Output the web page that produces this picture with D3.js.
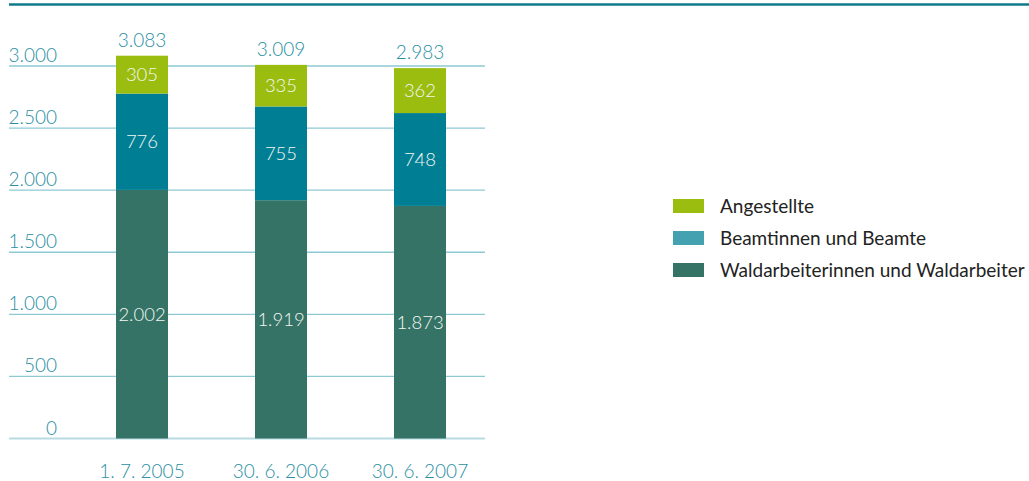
<!DOCTYPE html>
<html>
<head>
<meta charset="utf-8">
<script src="https://cdn.jsdelivr.net/npm/d3@7"></script>
<style>
  html, body { margin: 0; padding: 0; background: #fff; }
  svg { display: block; font-family: Lato, "Open Sans", sans-serif; }
</style>
</head>
<body>
<svg id="chart" width="1029" height="481"></svg>
<script>
// Personalstand nach Beschäftigtengruppe
const categories = ["1. 7. 2005", "30. 6. 2006", "30. 6. 2007"];
const seriesNames = ["Waldarbeiterinnen und Waldarbeiter", "Beamtinnen und Beamte", "Angestellte"];
const waldarbeiter = [2002, 1919, 1873];
const beamte = [776, 755, 748];
const angestellte = [305, 335, 362];
const totals = [3083, 3009, 2983];
const yTicks = [0, 500, 1000, 1500, 2000, 2500, 3000];

const barColors = { "Waldarbeiterinnen und Waldarbeiter": "#347366", "Beamtinnen und Beamte": "#007f94", "Angestellte": "#9bbd0f" };
const legendColors = { "Waldarbeiterinnen und Waldarbeiter": "#347366", "Beamtinnen und Beamte": "#43a1b0", "Angestellte": "#9bbd0f" };
const legendOrder = ["Angestellte", "Beamtinnen und Beamte", "Waldarbeiterinnen und Waldarbeiter"];

const fmt = d3.formatLocale({ decimal: ",", thousands: ".", grouping: [3], currency: ["", " €"] }).format(",d");

const svg = d3.select("#chart");

// Trennlinie oben
svg.append("line")
  .attr("x1", 9).attr("x2", 1029).attr("y1", 4.5).attr("y2", 4.5)
  .attr("stroke", "#0f7b8a").attr("stroke-width", 2.5);

const x = d3.scalePoint().domain(categories).range([142, 420]);
const y = d3.scaleLinear().domain([0, 3000]).range([438.5, 66]);
const barW = 52;

// Gitterlinien
svg.append("g").selectAll("line").data(yTicks).join("line")
  .attr("x1", 9).attr("x2", 485)
  .attr("y1", d => y(d)).attr("y2", d => y(d))
  .attr("stroke", d => d === 0 ? "#b7dbe1" : "#8ec9d3")
  .attr("stroke-width", d => d === 0 ? 2 : 1.3);

// Achsenbeschriftung links
svg.append("g").selectAll("text").data(yTicks).join("text")
  .attr("x", 57).attr("y", d => y(d) - 4)
  .attr("text-anchor", "end")
  .attr("font-size", 19).attr("font-weight", 300)
  .attr("fill", "#2a8fa3")
  .text(d => fmt(d));

// Gestapelte Balken
const rows = categories.map((c, i) => ({
  cat: c,
  "Waldarbeiterinnen und Waldarbeiter": waldarbeiter[i],
  "Beamtinnen und Beamte": beamte[i],
  "Angestellte": angestellte[i]
}));
const stacked = d3.stack().keys(seriesNames)(rows);

const layers = svg.append("g").selectAll("g").data(stacked).join("g")
  .attr("fill", d => barColors[d.key]);

layers.selectAll("rect").data(d => d).join("rect")
  .attr("x", d => x(d.data.cat) - barW / 2)
  .attr("width", barW)
  .attr("y", d => y(d[1]))
  .attr("height", d => y(d[0]) - y(d[1]));

// Werte in den Segmenten
const inner = svg.append("g");
stacked.forEach(layer => {
  inner.selectAll(null).data(layer).join("text")
    .attr("x", d => x(d.data.cat))
    .attr("y", d => (y(d[0]) + y(d[1])) / 2)
    .attr("dy", "0.36em")
    .attr("text-anchor", "middle")
    .attr("font-size", 18.5).attr("font-weight", 300)
    .attr("fill", "#f4f7f2")
    .text(d => fmt(d[1] - d[0]));
});

// Summen über den Balken
svg.append("g").selectAll("text").data(categories).join("text")
  .attr("x", d => x(d))
  .attr("y", (d, i) => y(totals[i]) - 9)
  .attr("text-anchor", "middle")
  .attr("font-size", 19).attr("font-weight", 300)
  .attr("fill", "#2a8fa3")
  .text((d, i) => fmt(totals[i]));

// Kategorien unten
svg.append("g").selectAll("text").data(categories).join("text")
  .attr("x", d => x(d))
  .attr("y", 478)
  .attr("text-anchor", "middle")
  .attr("font-size", 19).attr("font-weight", 300)
  .attr("fill", "#2a8fa3")
  .text(d => d);

// Legende
const legend = svg.append("g").attr("transform", "translate(673,199)");
const item = legend.selectAll("g").data(legendOrder).join("g")
  .attr("transform", (d, i) => `translate(0,${i * 32})`);
item.append("rect").attr("width", 31).attr("height", 14).attr("fill", d => legendColors[d]);
item.append("text")
  .attr("x", 47).attr("y", 7).attr("dy", "0.36em")
  .attr("font-size", 19).attr("fill", "#222")
  .text(d => d);
</script>
</body>
</html>
